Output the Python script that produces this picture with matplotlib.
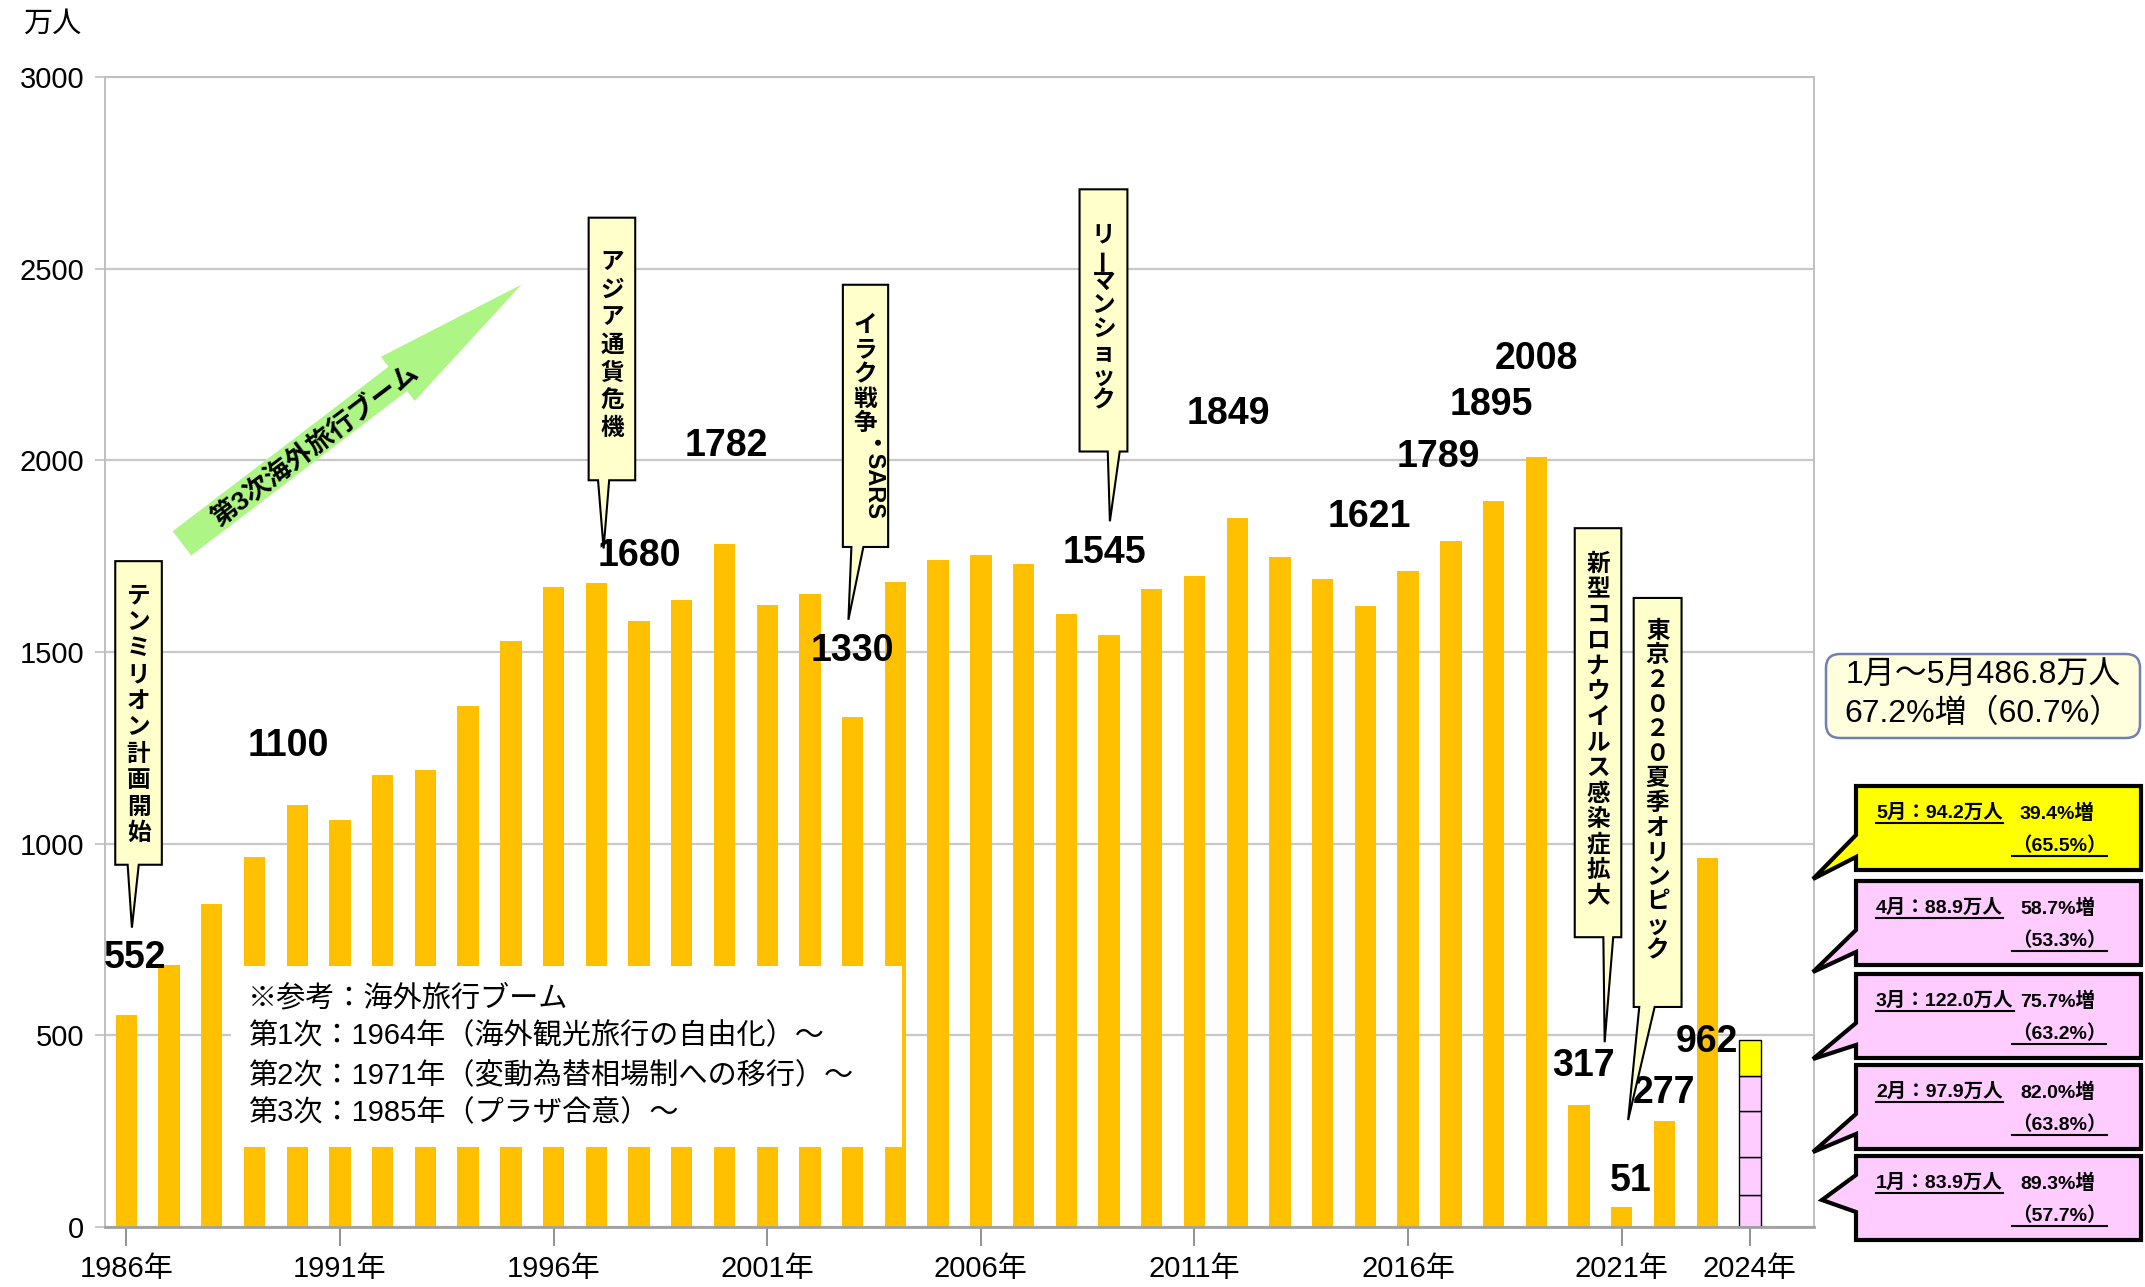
import matplotlib
matplotlib.use("Agg")
import matplotlib.pyplot as plt
from matplotlib.patches import Polygon, Rectangle, FancyArrowPatch, FancyBboxPatch
from matplotlib.transforms import offset_copy

plt.rcParams['font.family'] = ['Liberation Sans', 'Noto Sans CJK JP', 'DejaVu Sans']

# 出国日本人数（万人）
years = list(range(1986, 2024))
travelers = [552, 683, 843, 966, 1100, 1063, 1179, 1193, 1358, 1530,
             1669, 1680, 1581, 1636, 1782, 1622, 1652, 1330, 1683, 1740,
             1753, 1729, 1599, 1545, 1664, 1699, 1849, 1747, 1690, 1621,
             1712, 1789, 1895, 2008, 317, 51, 277, 962]

# 2024年 月別（万人）
months = ['1月', '2月', '3月', '4月', '5月']
month_values = [83.9, 97.9, 122.0, 88.9, 94.2]
month_growth = ['89.3%', '82.0%', '75.7%', '58.7%', '39.4%']
month_ratio = ['57.7%', '63.8%', '63.2%', '53.3%', '65.5%']
total_2024 = 486.8
total_growth = '67.2%'
total_ratio = '60.7%'

tick_years = [1986, 1991, 1996, 2001, 2006, 2011, 2016, 2021, 2024]
labeled_years = [1986, 1990, 1997, 2000, 2003, 2009, 2012, 2015, 2017, 2018,
                 2019, 2020, 2021, 2022, 2023]

# ラベル位置（データ座標）
label_pos = {1986: (0.2, 703), 1990: (3.8, 1256), 1997: (12.0, 1751),
             2000: (14.05, 2037), 2003: (17.0, 1502), 2009: (22.9, 1759),
             2012: (25.8, 2122), 2015: (29.1, 1851), 2017: (30.7, 2008),
             2018: (31.95, 2144), 2019: (33.0, 2265), 2020: (34.1, 421),
             2021: (35.2, 121), 2022: (36.0, 350), 2023: (37.0, 482)}

W, H = 2145, 1287
fig = plt.figure(figsize=(W / 100, H / 100), dpi=100)
ax = fig.add_axes([105 / W, 1 - 1227 / H, (1814 - 105) / W, 1150 / H])

x = list(range(len(years)))
ax.bar(x, travelers, width=0.5, color='#FFC000', zorder=2)

# 2024年の積み上げ
x24 = 2024 - 1986
bottom = 0
for i, v in enumerate(month_values):
    c = '#FFFF00' if i == len(month_values) - 1 else '#FFCCFF'
    ax.bar(x24, v, width=0.5, bottom=bottom, color=c, edgecolor='black', lw=1, zorder=2)
    bottom += v

ax.set_xlim(-0.5, 39.5)
ax.set_ylim(0, 3000)
ax.set_yticks(range(0, 3001, 500))
ax.yaxis.grid(True, color='#C8C8C8', lw=1.6)
ax.set_axisbelow(True)
ax.set_xticks([y - 1986 for y in tick_years])
ax.set_xticklabels([f'{y}年' for y in tick_years], fontsize=21)
ax.tick_params(axis='x', length=14, width=1.2, color='#7F7F7F', pad=6)
ax.tick_params(axis='y', length=7, width=1.2, color='#BFBFBF', labelsize=21, pad=8)
for s in ['left', 'right', 'top']:
    ax.spines[s].set_color('#BFBFBF')
    ax.spines[s].set_linewidth(1.4)
ax.spines['bottom'].set_color('#A0A0A0')
ax.spines['bottom'].set_linewidth(2)

# 値ラベル
for yr in labeled_years:
    lx, ly = label_pos[yr]
    ax.text(lx, ly, str(travelers[yr - 1986]), ha='center', va='center',
            fontsize=27, fontweight='bold', zorder=6)

# 参考ボックス
ax.add_patch(Rectangle((2.46, 210), 15.69, 471, facecolor='white', edgecolor='none', zorder=3))
notes = ['※参考：海外旅行ブーム',
         '第1次：1964年（海外観光旅行の自由化）～',
         '第2次：1971年（変動為替相場制への移行）～',
         '第3次：1985年（プラザ合意）～']
for i, t in enumerate(notes):
    ax.text(2.85, 597 - i * 100, t, ha='left', va='center', fontsize=21, zorder=4)

# 第3次海外旅行ブームの矢印
arr = FancyArrowPatch((1.25, 1779), (9.30, 2463),
                      arrowstyle='simple,head_length=112,head_width=40,tail_width=22',
                      mutation_scale=1, facecolor='#ADF585', edgecolor='none', zorder=3)
ax.add_patch(arr)
ax.text(4.42, 2040, '第3次海外旅行ブーム', rotation=37, rotation_mode='anchor',
        ha='center', va='center', fontsize=19, fontweight='bold', zorder=4)


def vtext(xc, ytop, s, first, step, size=17):
    for i, ch in enumerate(s):
        tr = offset_copy(ax.transData, fig=fig, x=0, y=-(first + i * step), units='points')
        rot = 90 if ch == 'ー' else 0
        ax.text(xc, ytop, ch, transform=tr, ha='center', va='center', rotation=rot,
                fontsize=size, fontweight='bold', zorder=8)


def callout(s, x0, x1, ytop, ybot, bx0, bx1, tx, ty, first=24, step=18.8, rotated=None):
    pts = [(x0, ytop), (x1, ytop), (x1, ybot), (bx1, ybot), (tx, ty), (bx0, ybot), (x0, ybot)]
    ax.add_patch(Polygon(pts, closed=True, facecolor='#FFFFCC', edgecolor='black', lw=1.5, zorder=7))
    xc = (x0 + x1) / 2
    vtext(xc, ytop, s, first, step)
    if rotated:
        tr = offset_copy(ax.transData, fig=fig, x=0,
                         y=-(first + (len(s) - 0.5) * step + 1), units='points')
        ax.text(xc, ytop, rotated, transform=tr, rotation=-90, ha='center', va='top',
                fontsize=17, fontweight='bold', zorder=8)


callout('テンミリオン計画開始', -0.26, 0.83, 1737, 945, 0.03, 0.29, 0.13, 781,
        first=25, step=19.0)
callout('アジア通貨危機', 10.82, 11.91, 2633, 1948, 11.04, 11.30, 11.17, 1770,
        first=32, step=20.0)
callout('イラク戦争', 16.77, 17.83, 2458, 1774, 16.97, 17.25, 16.9, 1584,
        first=29, step=17.8, rotated='・SARS')
callout('リーマンショック', 22.31, 23.43, 2707, 2023, 22.97, 23.25, 23.02, 1841,
        first=33, step=17.0)
callout('新型コロナウイルス感染症拡大', 33.9, 34.99, 1823, 756, 34.57, 34.8, 34.6, 482,
        first=26, step=18.4)
callout('東京２０２０夏季オリンピック', 35.28, 36.4, 1641, 574, 35.41, 35.77, 35.15, 279,
        first=24, step=17.7)

# 右側の注記（ピクセル座標のオーバーレイ）
ov = fig.add_axes([0, 0, 1, 1], zorder=10)
ov.set_xlim(0, W)
ov.set_ylim(H, 0)
ov.axis('off')

ov.text(52, 24, '万人', ha='center', va='center', fontsize=21)

ov.add_patch(FancyBboxPatch((1826, 654), 314, 84, boxstyle='round,pad=0,rounding_size=14',
                            facecolor='#FFFFDD', edgecolor='#7080B0', lw=1.8))
ov.text(1983, 676, f'1月～5月{total_2024:.1f}万人', ha='center', va='center', fontsize=23)
ov.text(1983, 714, f'{total_growth}増（{total_ratio}）', ha='center', va='center', fontsize=23)

box_top = [1156, 1065, 974, 881, 786]
tips = [(1822, 1200, 1175, 1212), (1813, 1152, 1114, 1134), (1813, 1059, 1023, 1045),
        (1813, 972, 930, 952), (1813, 879, 835, 857)]
fig.canvas.draw()
renderer = fig.canvas.get_renderer()
underline = []
for i in range(len(months)):
    t0 = box_top[i]
    t1 = t0 + 84
    tx, ty, b0, b1 = tips[i]
    L, R = 1856, 2141
    pts = [(L, t0), (R, t0), (R, t1), (L, t1), (L, b1), (tx, ty), (L, b0)]
    c = '#FFFF00' if i == len(months) - 1 else '#FFCCFF'
    ov.add_patch(Polygon(pts, closed=True, facecolor=c, edgecolor='black', lw=3, joinstyle='miter'))
    a = ov.text(1876, t0 + 27, f'{months[i]}：{month_values[i]:.1f}万人', ha='left', va='center',
                fontsize=14, fontweight='bold')
    ov.text(2020, t0 + 27, f'{month_growth[i]}増', ha='left', va='center',
            fontsize=14, fontweight='bold')
    b = ov.text(2012, t0 + 60, f'（{month_ratio[i]}）', ha='left', va='center',
                fontsize=14, fontweight='bold')
    underline += [a, b]

fig.canvas.draw()
for t in underline:
    bb = t.get_window_extent(renderer)
    yy = H - bb.y0 + 1
    ov.plot([bb.x0, bb.x1], [yy, yy], color='black', lw=1.5)

fig.savefig('out.png', dpi=100)
